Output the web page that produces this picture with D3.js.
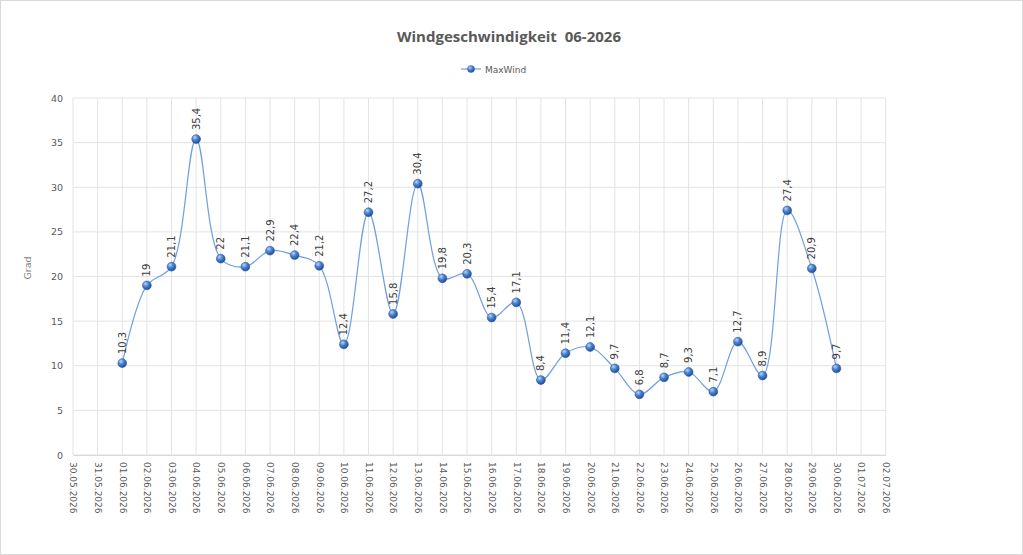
<!DOCTYPE html>
<html><head><meta charset="utf-8">
<script src="https://cdn.jsdelivr.net/npm/d3@7"></script>
<style>
html,body{margin:0;padding:0;background:#fff;}
svg{display:block;}
</style></head>
<body>
<svg id="chart" width="1023" height="555"></svg>
<script>
const categories = ["30.05.2026","31.05.2026","01.06.2026","02.06.2026","03.06.2026","04.06.2026","05.06.2026","06.06.2026","07.06.2026","08.06.2026","09.06.2026","10.06.2026","11.06.2026","12.06.2026","13.06.2026","14.06.2026","15.06.2026","16.06.2026","17.06.2026","18.06.2026","19.06.2026","20.06.2026","21.06.2026","22.06.2026","23.06.2026","24.06.2026","25.06.2026","26.06.2026","27.06.2026","28.06.2026","29.06.2026","30.06.2026","01.07.2026","02.07.2026"];
const pointDates = ["01.06.2026","02.06.2026","03.06.2026","04.06.2026","05.06.2026","06.06.2026","07.06.2026","08.06.2026","09.06.2026","10.06.2026","11.06.2026","12.06.2026","13.06.2026","14.06.2026","15.06.2026","16.06.2026","17.06.2026","18.06.2026","19.06.2026","20.06.2026","21.06.2026","22.06.2026","23.06.2026","24.06.2026","25.06.2026","26.06.2026","27.06.2026","28.06.2026","29.06.2026","30.06.2026"];
const maxWind = [10.3,19,21.1,35.4,22,21.1,22.9,22.4,21.2,12.4,27.2,15.8,30.4,19.8,20.3,15.4,17.1,8.4,11.4,12.1,9.7,6.8,8.7,9.3,7.1,12.7,8.9,27.4,20.9,9.7];
const yTicks = [0,5,10,15,20,25,30,35,40];

const svg = d3.select("#chart");
const W = 1023, H = 555;
const pLeft = 73, pRight = 885.7, pTop = 98, pBottom = 455;

// outer border
svg.append("rect").attr("x",0.5).attr("y",0.5).attr("width",W-1).attr("height",H-1)
  .attr("fill","#fff").attr("stroke","#d9d9d9");

const x = d3.scalePoint().domain(categories).range([pLeft, pRight]);
const y = d3.scaleLinear().domain([0,40]).range([pBottom, pTop]);

const defs = svg.append("defs");
const grad = defs.append("radialGradient").attr("id","ball").attr("cx","35%").attr("cy","30%").attr("r","70%");
grad.append("stop").attr("offset","0%").attr("stop-color","#bcd6f5");
grad.append("stop").attr("offset","45%").attr("stop-color","#4f86cf");
grad.append("stop").attr("offset","100%").attr("stop-color","#1f4f99");

// gridlines
const g = svg.append("g");
g.selectAll("line.h").data(yTicks).join("line")
  .attr("x1",pLeft).attr("x2",pRight).attr("y1",d=>y(d)).attr("y2",d=>y(d))
  .attr("stroke","#e3e3e3").attr("stroke-width",1);
g.selectAll("line.v").data(categories).join("line")
  .attr("x1",d=>x(d)).attr("x2",d=>x(d)).attr("y1",pTop).attr("y2",pBottom)
  .attr("stroke","#e3e3e3").attr("stroke-width",1);

// y axis
const yAxis = d3.axisLeft(y).tickValues(yTicks).tickSize(0).tickPadding(10).tickFormat(d3.format("d"));
const ya = svg.append("g").attr("transform",`translate(${pLeft},0)`).call(yAxis);
ya.select(".domain").remove();
ya.selectAll("text").attr("fill","#595959").style("font-family","DejaVu Sans, sans-serif").style("font-size","9.5px");

// x axis
const xAxis = d3.axisBottom(x).tickSize(0).tickPadding(0);
const xa = svg.append("g").attr("transform",`translate(0,${pBottom})`).call(xAxis);
xa.select(".domain").attr("stroke","#d9d9d9");
xa.selectAll("text")
  .attr("transform","rotate(90)")
  .attr("x",7).attr("y",0).attr("dy","0.35em")
  .attr("text-anchor","start")
  .attr("fill","#595959")
  .style("font-family","DejaVu Sans, sans-serif").style("font-size","9px");

// y title
svg.append("text").attr("transform",`translate(31,268) rotate(-90)`)
  .attr("text-anchor","middle").attr("fill","#7f7f7f")
  .style("font-family","DejaVu Sans, sans-serif").style("font-size","9.5px").text("Grad");

// title
svg.append("text").attr("x",509).attr("y",42).attr("text-anchor","middle")
  .attr("fill","#595959").style("font-family","Open Sans, DejaVu Sans, sans-serif")
  .style("font-size","15px").style("font-weight","bold").style("white-space","pre")
  .text("Windgeschwindigkeit  06-2026");

// legend
const lg = svg.append("g");
lg.append("line").attr("x1",461).attr("x2",481).attr("y1",69).attr("y2",69).attr("stroke","#6f9fe0").attr("stroke-width",1.2);
lg.append("circle").attr("cx",471).attr("cy",69).attr("r",3.5).attr("fill","url(#ball)").attr("stroke","#2a5ca8").attr("stroke-width",0.5);
lg.append("text").attr("x",485).attr("y",72.5).attr("fill","#595959")
  .style("font-family","DejaVu Sans, sans-serif").style("font-size","9px").text("MaxWind");

// series
const pts = pointDates.map((d,i)=>({d, v:maxWind[i]}));
const line = d3.line().x(p=>x(p.d)).y(p=>y(p.v)).curve(d3.curveCatmullRom.alpha(0.5));
svg.append("path").datum(pts).attr("d",line).attr("fill","none")
  .attr("stroke","#6f9fe0").attr("stroke-width",1.2);

svg.selectAll("circle.pt").data(pts).join("circle").attr("class","pt")
  .attr("cx",p=>x(p.d)).attr("cy",p=>y(p.v)).attr("r",4.4)
  .attr("fill","url(#ball)").attr("stroke","#2a5ca8").attr("stroke-width",0.6);

const fmt = v => String(v).replace(".",",");
svg.selectAll("text.lbl").data(pts).join("text").attr("class","lbl")
  .attr("transform",p=>`translate(${x(p.d)+3.5},${y(p.v)-9}) rotate(-90)`)
  .attr("text-anchor","start").attr("fill","#404040")
  .style("font-family","DejaVu Sans, sans-serif").style("font-size","10px")
  .text(p=>fmt(p.v));
</script>
</body></html>
